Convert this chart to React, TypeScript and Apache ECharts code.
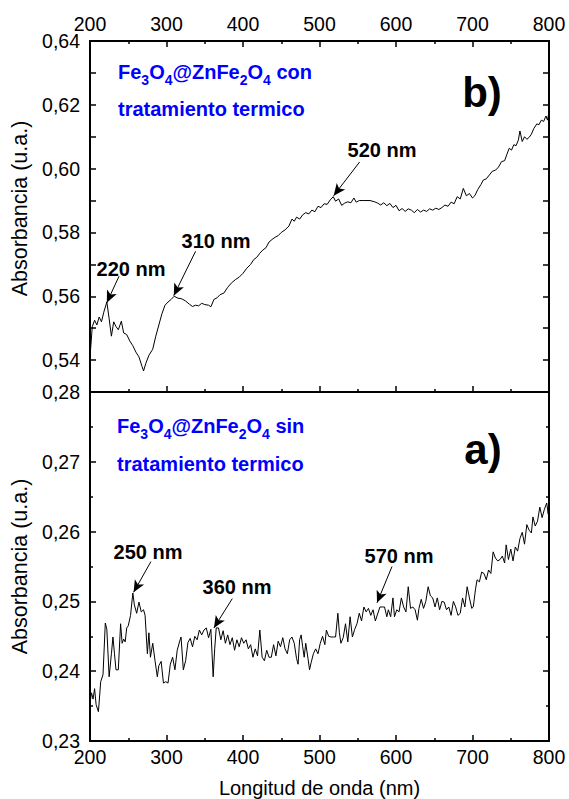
import React, { useEffect, useRef } from "react";
import * as echarts from "echarts";

// Panel b) Fe3O4@ZnFe2O4 con tratamiento termico
const waveB = [200,203,206,209,212,215,218,222,225,228,231,234,237,241,244,248,252,256,260,264,268,270,273,277,282,286,290,294,298,302,306,310,315,320,325,330,334,338,342,346,350,355,358,362,366,370,375,380,385,390,395,400,405,410,414,418,422,426,430,434,438,442,446,450,455,460,464,467,470,474,478,482,486,490,494,498,502,506,510,514,518,521,525,529,533,537,541,545,548,552,558,566,572,576,580,584,588,592,596,600,604,608,612,616,620,624,628,632,636,640,644,648,652,656,660,664,668,672,676,680,684,688,692,696,700,703,707,711,714,718,722,726,730,734,738,742,745,748,751,754,757,760,762,765,768,771,774,777,780,784,787,790,793,796,798,800];
const absB = [0.541,0.5505,0.5525,0.551,0.5535,0.552,0.555,0.5582,0.553,0.5475,0.552,0.5505,0.5495,0.5522,0.5485,0.548,0.546,0.5445,0.5425,0.541,0.538,0.5366,0.539,0.5415,0.5434,0.5475,0.551,0.5545,0.5572,0.5582,0.559,0.56,0.5594,0.5592,0.5585,0.5575,0.5568,0.5572,0.557,0.5578,0.5574,0.5572,0.5567,0.559,0.5595,0.5605,0.561,0.5628,0.5642,0.5652,0.566,0.5672,0.5688,0.57,0.5715,0.5722,0.5735,0.5745,0.5752,0.577,0.5778,0.5785,0.579,0.58,0.5808,0.582,0.5842,0.5835,0.5848,0.5842,0.5855,0.5862,0.5858,0.587,0.5865,0.5882,0.5878,0.589,0.5888,0.5902,0.5912,0.5898,0.5905,0.5885,0.5892,0.5896,0.5893,0.5908,0.5895,0.59,0.59,0.59,0.5896,0.5892,0.5886,0.5893,0.5884,0.5891,0.5878,0.5885,0.5868,0.5875,0.5866,0.5874,0.587,0.5862,0.5872,0.5864,0.587,0.5866,0.5874,0.587,0.5876,0.5872,0.5878,0.5886,0.5882,0.5895,0.589,0.5912,0.5905,0.5938,0.5915,0.5922,0.5908,0.5915,0.5935,0.595,0.5964,0.5968,0.598,0.5992,0.5995,0.6005,0.6022,0.6025,0.6045,0.6064,0.6058,0.6075,0.6072,0.609,0.6118,0.6085,0.61,0.6092,0.6098,0.6108,0.6125,0.614,0.6138,0.6152,0.6148,0.6165,0.6152,0.6178];

// Panel a) Fe3O4@ZnFe2O4 sin tratamiento termico
const waveA = [200,202,204,206,208,211,214,217,220,222,225,228,230,232,234,237,240,242,244,246,248,250,253,256,258,261,264,267,270,272,275,277,279,282,285,288,290,293,296,299,302,305,308,311,314,317,319,322,325,328,331,334,337,340,343,346,349,352,355,358,361,363,365,368,371,374,377,380,383,386,389,392,395,398,401,404,407,410,413,416,419,422,425,428,431,434,437,440,443,446,449,452,455,458,461,464,467,470,472,474,476,478,480,482,485,487,489,492,495,498,501,504,507,509,512,515,518,521,524,526,528,531,534,537,540,543,546,549,552,555,558,561,564,567,570,573,576,579,582,585,588,590,593,596,598,601,604,607,610,613,616,619,622,625,628,630,633,636,639,642,645,648,651,654,657,660,663,666,669,672,675,678,681,684,687,690,693,696,699,701,704,706,709,712,715,718,721,724,727,730,733,736,739,742,744,747,750,753,756,759,762,765,768,771,774,777,779,782,785,788,791,794,797,799,800];
const absA = [0.2355,0.2369,0.236,0.2375,0.2352,0.2342,0.2385,0.2395,0.2469,0.246,0.2392,0.2425,0.2449,0.2425,0.2402,0.2402,0.2468,0.244,0.2446,0.2442,0.2462,0.2465,0.248,0.2512,0.2495,0.2483,0.2499,0.2485,0.2488,0.248,0.2425,0.2455,0.242,0.244,0.2415,0.2392,0.2408,0.2414,0.2383,0.2385,0.2383,0.241,0.242,0.2402,0.243,0.2442,0.2449,0.2402,0.2415,0.2441,0.2447,0.2435,0.245,0.2445,0.2459,0.2452,0.2459,0.2462,0.2448,0.246,0.2392,0.2432,0.2462,0.2462,0.2445,0.2458,0.244,0.2452,0.2438,0.2448,0.243,0.2445,0.2435,0.2448,0.244,0.2445,0.2432,0.2438,0.242,0.2432,0.2422,0.2459,0.242,0.2415,0.243,0.242,0.242,0.2438,0.2422,0.2443,0.2435,0.2448,0.2432,0.2425,0.2445,0.2449,0.244,0.2418,0.241,0.2445,0.2452,0.2435,0.242,0.244,0.2418,0.2402,0.2412,0.2425,0.2432,0.2425,0.244,0.245,0.2438,0.2459,0.245,0.2449,0.2449,0.2449,0.2483,0.2455,0.244,0.2448,0.2468,0.2442,0.2478,0.2449,0.246,0.2468,0.2483,0.2472,0.2492,0.2485,0.249,0.248,0.2488,0.2472,0.2482,0.2492,0.2492,0.2492,0.2478,0.2488,0.2478,0.2505,0.2478,0.2488,0.2485,0.2505,0.2492,0.2485,0.2521,0.249,0.2492,0.2488,0.2473,0.249,0.2503,0.249,0.25,0.2521,0.2508,0.2505,0.2492,0.2505,0.2488,0.25,0.2499,0.2488,0.2492,0.248,0.25,0.2492,0.248,0.2483,0.2505,0.2492,0.2521,0.2505,0.249,0.2492,0.2518,0.2531,0.2528,0.2542,0.254,0.2531,0.2545,0.254,0.2571,0.2562,0.2558,0.256,0.2565,0.2555,0.2581,0.256,0.2575,0.2558,0.2578,0.2572,0.259,0.2599,0.2582,0.261,0.2602,0.2598,0.2621,0.2608,0.2615,0.2635,0.262,0.2632,0.2641,0.2625,0.265];

// Peak annotations: arrow tail [x, y] and arrow head [x, y] in data units
const peaksB = [
  { label: "220 nm", from: [238, 0.5663], to: [222, 0.558] },
  { label: "310 nm", from: [338, 0.5741], to: [309.5, 0.5602] },
  { label: "520 nm", from: [552.5, 0.6021], to: [518.5, 0.5915] },
];
const peaksA = [
  { label: "250 nm", from: [279.6, 0.2557], to: [257, 0.2513] },
  { label: "360 nm", from: [386, 0.2504], to: [362, 0.2462] },
  { label: "570 nm", from: [594.8, 0.255], to: [575.2, 0.2498] },
];

const FONT = "Arial, 'Liberation Sans', sans-serif";

export default function App() {
  const ref = useRef<HTMLDivElement>(null);
  useEffect(() => {
    if (!ref.current) return;
    const chart = echarts.init(ref.current, null, { renderer: "svg" });
    const L = 90, R = 549, T = 41, MID = 392, B = 741;
    const axisLine = { show: true, lineStyle: { color: "#000", width: 2 } };
    const tickIn = { show: true, inside: true, length: 6, lineStyle: { color: "#000", width: 1.5 } };
    const minorIn = { show: true, splitNumber: 2, length: 3, lineStyle: { color: "#000", width: 1.5 } };
    const lbl = { color: "#000", fontSize: 19.5, fontFamily: FONT };
    const xBase = (gridIndex: number, position: string, showLabel: boolean, name?: string) => ({
      type: "value", gridIndex, position, min: 200, max: 800, interval: 100,
      axisLine, axisTick: tickIn, minorTick: minorIn, splitLine: { show: false },
      axisLabel: { show: showLabel, ...lbl, margin: position === "top" ? 7 : 6 },
      name: name || "", nameLocation: "middle", nameGap: 37,
      nameTextStyle: { color: "#000", fontSize: 20, fontFamily: FONT },
    });
    const fmtB = (v: number) => {
      const k = Math.round(v * 100);
      if (k % 2 !== 0) return "";
      return (k / 100).toFixed(2).replace(".", ",");
    };
    const fmtA = (v: number) => v.toFixed(2).replace(".", ",");
    const yBase = (gridIndex: number, position: string, min: number, max: number, showLabel: boolean, fmt: any, minor: boolean, namePad: number[]) => ({
      type: "value", gridIndex, position, min, max, interval: 0.01,
      axisLine, axisTick: tickIn, minorTick: minor ? minorIn : { show: false }, splitLine: { show: false },
      axisLabel: { show: showLabel, ...lbl, margin: 10, formatter: fmt, showMinLabel: true, showMaxLabel: true },
      name: showLabel ? "Absorbancia (u.a.)" : "", nameLocation: "middle", nameGap: 50,
      nameTextStyle: { color: "#000", fontSize: 21.5, fontFamily: FONT, padding: namePad },
    });
    const arrows = (peaks: any[]) => ({
      silent: true, symbol: ["none", "arrow"], symbolSize: [8, 12],
      lineStyle: { color: "#000", width: 1, type: "solid" },
      label: { show: false }, emphasis: { disabled: true },
      data: peaks.map((p) => [{ coord: p.from }, { coord: p.to }]),
    });
    const blue = "#0000ff";
    const nrm = { fontSize: 20, fontWeight: "bold", fill: blue, fontFamily: FONT, lineHeight: 29, verticalAlign: "middle" };
    const sub = { fontSize: 14, fontWeight: "bold", fill: blue, fontFamily: FONT, lineHeight: 9, verticalAlign: "bottom" };
    const formula = (tail: string) => `{n|Fe}{s|3}{n|O}{s|4}{n|@ZnFe}{s|2}{n|O}{s|4}{n|${tail}}`;
    const peakLabel = (text: string, x: number, y: number) => ({
      type: "text", x, y,
      style: { text, fill: "#000", font: `bold 20px ${FONT}`, textAlign: "center", textVerticalAlign: "middle" },
    });
    const option: any = {
      animation: false,
      backgroundColor: "#fff",
      grid: [
        { left: L, width: R - L, top: T, height: MID - T, containLabel: false },
        { left: L, width: R - L, top: MID, height: B - MID, containLabel: false },
      ],
      xAxis: [
        xBase(0, "top", true),
        xBase(0, "bottom", false),
        { ...xBase(1, "top", false), axisTick: { show: false }, minorTick: { show: false } },
        xBase(1, "bottom", true, "Longitud de onda (nm)"),
      ],
      yAxis: [
        yBase(0, "left", 0.53, 0.64, true, fmtB, false, [0, 0, 0, 16]),
        yBase(0, "right", 0.53, 0.64, false, fmtB, false, [0, 0, 0, 0]),
        yBase(1, "left", 0.23, 0.28, true, fmtA, true, [0, 0, 0, 0]),
        yBase(1, "right", 0.23, 0.28, false, fmtA, true, [0, 0, 0, 0]),
      ],
      series: [
        {
          type: "line", xAxisIndex: 0, yAxisIndex: 0, showSymbol: false, symbol: "none",
          lineStyle: { color: "#000", width: 1 }, data: waveB.map((x, i) => [x, absB[i]]),
          markLine: arrows(peaksB),
        },
        {
          type: "line", xAxisIndex: 3, yAxisIndex: 2, showSymbol: false, symbol: "none",
          lineStyle: { color: "#000", width: 1 }, data: waveA.map((x, i) => [x, absA[i]]),
          markLine: arrows(peaksA),
        },
      ],
      graphic: [
        { type: "text", left: 118, top: 62, style: { text: formula(" con"), rich: { n: nrm, s: sub }, fill: blue, font: `bold 20px ${FONT}` } },
        { type: "text", left: 118, top: 99, style: { text: "tratamiento termico", fill: blue, font: `bold 20px ${FONT}` } },
        { type: "text", left: 117, top: 416, style: { text: formula(" sin"), rich: { n: nrm, s: sub }, fill: blue, font: `bold 20px ${FONT}` } },
        { type: "text", left: 117, top: 454, style: { text: "tratamiento termico", fill: blue, font: `bold 20px ${FONT}` } },
        { type: "text", x: 482, y: 92, style: { text: "b)", fill: "#000", font: `bold 42px ${FONT}`, textAlign: "center", textVerticalAlign: "middle" } },
        { type: "text", x: 483, y: 449, style: { text: "a)", fill: "#000", font: `bold 42px ${FONT}`, textAlign: "center", textVerticalAlign: "middle" } },
        peakLabel(peaksB[0].label, 131, 269),
        peakLabel(peaksB[1].label, 216, 241),
        peakLabel(peaksB[2].label, 382, 150),
        peakLabel(peaksA[0].label, 148, 552),
        peakLabel(peaksA[1].label, 237, 587),
        peakLabel(peaksA[2].label, 399, 556),
      ],
    };
    chart.setOption(option);
    return () => chart.dispose();
  }, []);
  return <div ref={ref} style={{ position: "fixed", left: 0, top: 0, width: 569, height: 799, background: "#fff" }} />;
}
